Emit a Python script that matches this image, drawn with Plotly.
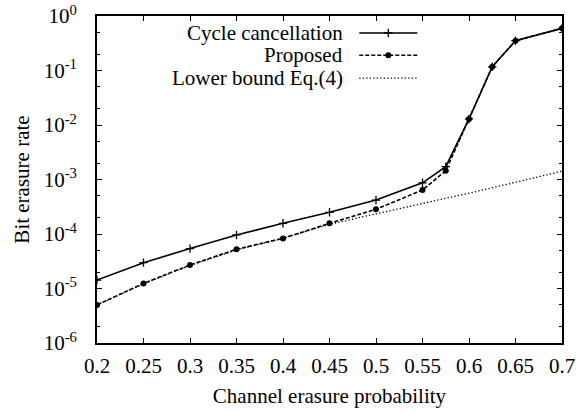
import plotly.graph_objects as go

# ---- data ----
x_vals = [0.2, 0.25, 0.3, 0.35, 0.4, 0.45, 0.5, 0.55, 0.575, 0.6, 0.625, 0.65, 0.7]
cycle_cancellation = [1.43e-5, 2.98e-5, 5.4e-5, 9.6e-5, 1.57e-4, 2.5e-4, 4.2e-4,
                      8.7e-4, 1.72e-3, 1.29e-2, 0.117, 0.352, 0.594]
proposed = [5.0e-6, 1.24e-5, 2.7e-5, 5.25e-5, 8.3e-5, 1.57e-4, 2.84e-4,
            6.4e-4, 1.45e-3, 1.29e-2, 0.117, 0.352, 0.594]
lb_x = [0.2, 0.25, 0.3, 0.35, 0.4, 0.45, 0.5, 0.55, 0.6, 0.65, 0.7]
lower_bound = [5.0e-6, 1.22e-5, 2.65e-5, 5.1e-5, 8.4e-5, 1.5e-4, 2.35e-4,
               3.6e-4, 5.6e-4, 8.9e-4, 1.42e-3]

x_ticks = [0.2, 0.25, 0.3, 0.35, 0.4, 0.45, 0.5, 0.55, 0.6, 0.65, 0.7]
x_ticklabels = ["0.2", "0.25", "0.3", "0.35", "0.4", "0.45", "0.5", "0.55", "0.6", "0.65", "0.7"]
y_exponents = [-6, -5, -4, -3, -2, -1, 0]

legend_names = ["Cycle cancellation", "Proposed", "Lower bound Eq.(4)"]

FONT = "Liberation Serif"
FS = 21

y_ticks = [10.0 ** e for e in y_exponents]
y_ticklabels = ["10<sup>%d</sup>" % e for e in y_exponents]
y_minor = [m * 10.0 ** e for e in y_exponents[:-1] for m in (2, 5)]

fig = go.Figure()

line_w = 1.6
fig.add_trace(go.Scatter(
    x=lb_x, y=lower_bound, mode="lines",
    line=dict(color="black", width=1.3, dash="1.3px,2.2px"),
    showlegend=False))
fig.add_trace(go.Scatter(
    x=x_vals, y=proposed, mode="lines+markers",
    line=dict(color="black", width=line_w, dash="4px,2px"),
    marker=dict(symbol="circle", size=6, color="black"),
    showlegend=False))
fig.add_trace(go.Scatter(
    x=x_vals, y=cycle_cancellation, mode="lines+markers",
    line=dict(color="black", width=line_w),
    marker=dict(symbol="cross-thin", size=6, color="black",
                line=dict(color="black", width=1.3)),
    showlegend=False))

# ---- custom legend (text on left, sample on right) on an overlay axis ----
rows = [0.948, 0.880, 0.810]
sx0, sx1 = 0.564, 0.689
styles = [
    dict(line=dict(color="black", width=line_w),
         marker=dict(symbol="cross-thin", size=6, color="black", line=dict(color="black", width=1.3))),
    dict(line=dict(color="black", width=line_w, dash="4px,2px"),
         marker=dict(symbol="circle", size=6, color="black")),
    dict(line=dict(color="black", width=1.3, dash="1.3px,2.2px"), marker=None),
]
for name, ry, st in zip(legend_names, rows, styles):
    fig.add_trace(go.Scatter(
        x=[sx0, sx1], y=[ry, ry], mode="lines", line=st["line"],
        xaxis="x2", yaxis="y2", showlegend=False, hoverinfo="skip"))
    if st["marker"] is not None:
        fig.add_trace(go.Scatter(
            x=[(sx0 + sx1) / 2], y=[ry], mode="markers", marker=st["marker"],
            xaxis="x2", yaxis="y2", showlegend=False, hoverinfo="skip"))
    fig.add_annotation(x=0.534, y=ry, xref="paper", yref="paper", text=name,
                       showarrow=False, xanchor="right", yanchor="middle",
                       font=dict(family=FONT, size=FS, color="black"))

axis_common = dict(showline=True, linecolor="black", linewidth=1.8, mirror="ticks",
                   ticks="inside", tickcolor="black", tickwidth=1.2, ticklen=5,
                   showgrid=False, zeroline=False, automargin=False,
                   tickfont=dict(family=FONT, size=FS, color="black"))

fig.update_layout(
    width=586, height=412,
    margin=dict(l=97, r=24, t=16, b=69),
    paper_bgcolor="white", plot_bgcolor="white",
    font=dict(family=FONT, size=FS, color="black"),
    showlegend=False,
    xaxis=dict(range=[0.2, 0.7], tickvals=x_ticks, ticktext=x_ticklabels,
               ticklabelstandoff=3,
               title=dict(text="Channel erasure probability", standoff=11,
                          font=dict(family=FONT, size=FS)),
               **axis_common),
    yaxis=dict(type="log", range=[-6, 0], tickvals=y_ticks, ticktext=y_ticklabels,
               ticklabelstandoff=14,
               minor=dict(tickvals=y_minor, ticks="inside", ticklen=3,
                          tickcolor="black", tickwidth=1.0, showgrid=False),
               title=dict(text="Bit erasure rate", standoff=8,
                          font=dict(family=FONT, size=FS)),
               **axis_common),
    xaxis2=dict(overlaying="x", range=[0, 1], visible=False, fixedrange=True),
    yaxis2=dict(overlaying="y", range=[0, 1], visible=False, fixedrange=True),
)

fig.write_html("out.html")
